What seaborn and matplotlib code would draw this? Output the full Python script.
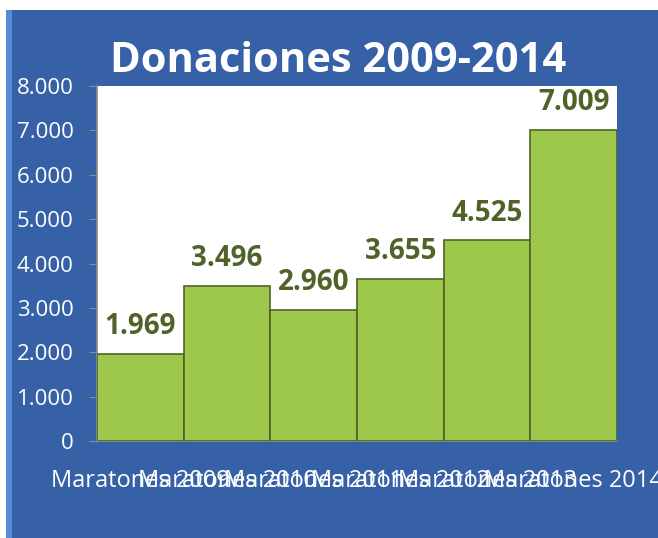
import numpy as np
import pandas as pd
import seaborn as sns
import matplotlib.pyplot as plt
from matplotlib.patches import Rectangle

categorias = ['Maratones 2009', 'Maratones 2010', 'Maratones 2011',
              'Maratones 2012', 'Maratones 2013', 'Maratones 2014']
donaciones = [1969, 3496, 2960, 3655, 4525, 7009]
yticks = [0, 1000, 2000, 3000, 4000, 5000, 6000, 7000, 8000]

def miles(v):
    return f'{v:,.0f}'.replace(',', '.')

df = pd.DataFrame({'cat': categorias, 'val': donaciones})

sns.set_style('white')
plt.rcParams['font.family'] = ['Open Sans', 'DejaVu Sans']

fig = plt.figure(figsize=(6.58, 5.38), dpi=100)
fig.patch.set_facecolor('white')
# fondo azul del gráfico
fig.patches.append(Rectangle((6/658, 0), 1, 1 - 10/538, transform=fig.transFigure,
                             facecolor='#3661a7', edgecolor='none', zorder=-2))
fig.patches.append(Rectangle((6/658, 0), 6/658, 1 - 10/538, transform=fig.transFigure,
                             facecolor='#5a8ad6', edgecolor='none', zorder=-1))

ax = fig.add_axes([97/658, 97/538, 520/658, 355/538])
ax.set_facecolor('white')

sns.barplot(data=df, x='cat', y='val', ax=ax, color='#9dc84b', width=1.0,
            saturation=1, edgecolor='#4f6228', linewidth=1.2, zorder=3)

ax.set_ylim(0, 8000)
ax.set_xlim(-0.5, 5.5)
ax.set_yticks(yticks)
ax.set_yticklabels([miles(t) for t in yticks], color='white', fontsize=16)
ax.set_xticks(range(len(categorias)))
ax.set_xticklabels(categorias, color='white', fontsize=17)
ax.tick_params(axis='y', which='both', left=True, length=6, color='#8c8c8c', pad=11)
ax.tick_params(axis='x', bottom=False, pad=17)
ax.set_xlabel('')
ax.set_ylabel('')
for s in ['top', 'right']:
    ax.spines[s].set_visible(False)
for s in ['left', 'bottom']:
    ax.spines[s].set_color('#8c8c8c')
    ax.spines[s].set_linewidth(1.2)

for i, v in enumerate(donaciones):
    ax.annotate(miles(v), (i, v), xytext=(0, 9), textcoords='offset points',
                ha='center', va='bottom', fontsize=20, fontweight='bold',
                color='#4f6228', zorder=4)

fig.text(0.514, 1 - 62/538, 'Donaciones 2009-2014', ha='center', va='center',
         fontsize=30, fontweight='bold', color='white')

fig.savefig('out.png', dpi=100)
